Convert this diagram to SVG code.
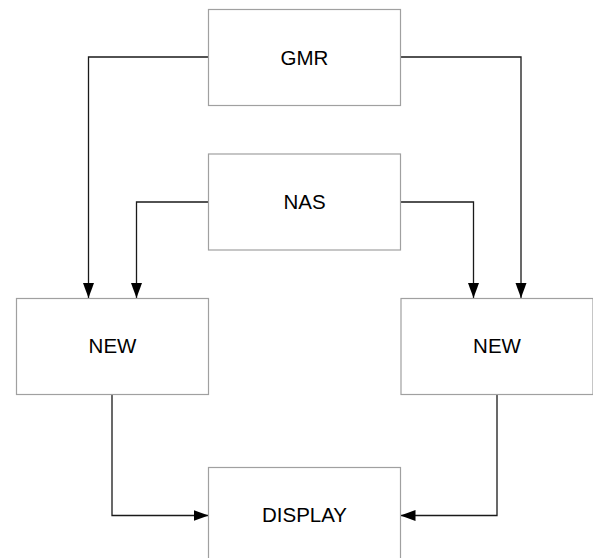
<svg xmlns="http://www.w3.org/2000/svg" width="593" height="558" viewBox="0 0 593 558">
<style>
.box{fill:#fff;stroke:#a0a0a0;stroke-width:1.2}
.lbl{font-family:"Liberation Sans",Arial,sans-serif;font-size:20.5px;fill:#000;text-anchor:middle}
.conn{fill:none;stroke:#1a1a1a;stroke-width:1.3}
</style>
<defs>
<marker id="arr" markerUnits="userSpaceOnUse" markerWidth="16" markerHeight="12" refX="15" refY="5.5" orient="auto">
<path d="M0,0 L15,5.5 L0,11 Z" fill="#000"/>
</marker>
</defs>
<rect width="593" height="558" fill="#fff"/>
<g id="connectors">
<path class="conn" d="M208.5,57 H88.5 V298" marker-end="url(#arr)"/>
<path class="conn" d="M400.5,57 H521 V298" marker-end="url(#arr)"/>
<path class="conn" d="M208.5,202 H136.5 V298" marker-end="url(#arr)"/>
<path class="conn" d="M400.5,202 H473.5 V298" marker-end="url(#arr)"/>
<path class="conn" d="M112,394.5 V515.5 H208.5" marker-end="url(#arr)"/>
<path class="conn" d="M497,394.5 V515.5 H400.5" marker-end="url(#arr)"/>
</g>
<g id="gmr">
<rect class="box" x="208.5" y="9.5" width="192" height="96"/>
<text class="lbl" x="304.5" y="64.5">GMR</text>
</g>
<g id="nas">
<rect class="box" x="208.5" y="154" width="192" height="96"/>
<text class="lbl" x="304.5" y="209">NAS</text>
</g>
<g id="new-left">
<rect class="box" x="16.5" y="298.5" width="192" height="96"/>
<text class="lbl" x="112.5" y="353">NEW</text>
</g>
<g id="new-right">
<rect class="box" x="401" y="298.5" width="192" height="96"/>
<text class="lbl" x="497" y="353">NEW</text>
</g>
<g id="display">
<rect class="box" x="208.5" y="467.5" width="192" height="96"/>
<text class="lbl" x="304.5" y="521.5">DISPLAY</text>
</g>
</svg>
